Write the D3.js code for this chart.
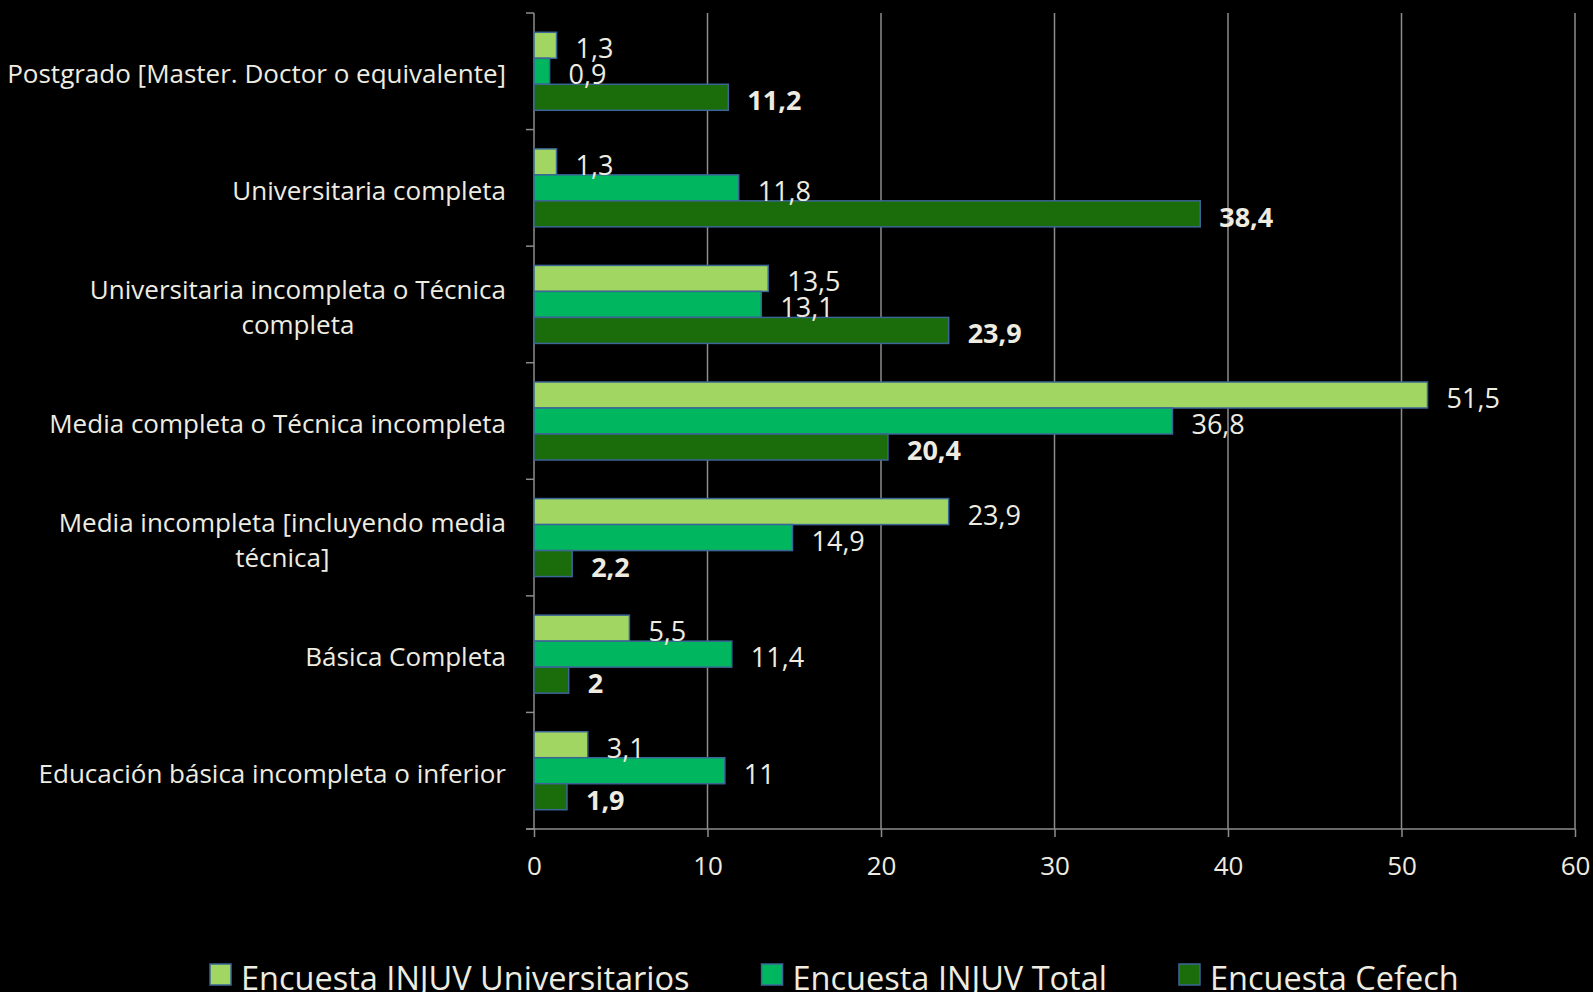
<!DOCTYPE html>
<html>
<head>
    <meta charset="utf-8">
    <style>
        body { margin: 0; background: #000; }
        svg { display: block; }
        text {
          font-family: "Open Sans", sans-serif;
          fill: #eeece1;
        }
        .cat { font-size: 26px; }
        .tick-label { font-size: 26px; }
        .value { font-size: 27px; }
        .value--bold { font-weight: 700; }
        .legend text { font-size: 32.5px; }
        .grid line, .axis line {
          stroke: #8c8c8c;
          stroke-width: 1.5px;
        }
        .bar {
          stroke: #3b6696;
          stroke-width: 1.5px;
        }
    </style>
    <title>Nivel educacional</title>
    <script src="https://d3js.org/d3.v7.min.js"></script>
</head>
<body>
    <script>
    // categories, top to bottom
    var categories = [
      "Postgrado [Master. Doctor o equivalente]",
      "Universitaria completa",
      "Universitaria incompleta o Técnica completa",
      "Media completa o Técnica incompleta",
      "Media incompleta [incluyendo media técnica]",
      "Básica Completa",
      "Educación básica incompleta o inferior"
    ];

    // series names (legend order)
    var seriesNames = ["Encuesta INJUV Universitarios", "Encuesta INJUV Total", "Encuesta Cefech"];

    // values per series, same order as categories
    var injuvUniversitarios = [1.3, 1.3, 13.5, 51.5, 23.9, 5.5, 3.1];
    var injuvTotal = [0.9, 11.8, 13.1, 36.8, 14.9, 11.4, 11];
    var cefech = [11.2, 38.4, 23.9, 20.4, 2.2, 2, 1.9];

    var xTicks = [0, 10, 20, 30, 40, 50, 60];

    var seriesValues = [injuvUniversitarios, injuvTotal, cefech];
    var colors = ["#a2d663", "#00b65e", "#1b6d0b"];

    var width = 1593, height = 992;
    var plot = { left: 534, right: 1575, top: 13, bottom: 829 };

    var svg = d3.select("body").append("svg")
        .attr("width", width)
        .attr("height", height);

    // scales
    var x = d3.scaleLinear()
        .domain([0, 60])
        .range([plot.left, plot.right]);

    var y = d3.scaleBand()
        .domain(categories)
        .range([plot.top, plot.bottom])
        .paddingInner(0.331)
        .paddingOuter(0.1655);

    var ySeries = d3.scaleBand()
        .domain(d3.range(seriesNames.length))
        .range([0, y.bandwidth()]);

    var step = y.step();

    // vertical grid lines
    svg.append("g")
        .attr("class", "grid")
        .selectAll("line")
        .data(xTicks.slice(1))
        .enter().append("line")
          .attr("x1", function(d) { return x(d); })
          .attr("x2", function(d) { return x(d); })
          .attr("y1", plot.top)
          .attr("y2", plot.bottom);

    // x axis
    var xAxis = svg.append("g")
        .attr("class", "axis")
        .attr("transform", "translate(0," + plot.bottom + ")")
        .call(d3.axisBottom(x).tickValues(xTicks).tickSize(8).tickSizeOuter(0));
    xAxis.select(".domain").remove();
    xAxis.append("line")
        .attr("x1", plot.left - 8)
        .attr("x2", plot.right);
    xAxis.selectAll(".tick text")
        .attr("class", "tick-label")
        .attr("y", 46)
        .attr("dy", 0)
        .attr("font-size", null)
        .attr("font-family", null)
        .attr("fill", null)
        .text(function(d) { return d; });

    // y axis: line + ticks at category boundaries
    var yAxis = svg.append("g").attr("class", "axis");
    yAxis.append("line")
        .attr("x1", plot.left).attr("x2", plot.left)
        .attr("y1", plot.top).attr("y2", plot.bottom);
    yAxis.selectAll(".ytick")
        .data(d3.range(categories.length + 1))
        .enter().append("line")
          .attr("class", "ytick")
          .attr("x1", plot.left - 8)
          .attr("x2", plot.left)
          .attr("y1", function(i) { return plot.top + i * step; })
          .attr("y2", function(i) { return plot.top + i * step; });

    // category labels (wrapped, centred block, right aligned)
    var labelRight = 506, lineHeight = 35, maxLabelWidth = 515;
    var catLabels = svg.append("g").selectAll(".cat")
        .data(categories)
        .enter().append("text")
          .attr("class", "cat")
          .attr("text-anchor", "middle");

    catLabels.each(function(d) {
      var t = d3.select(this);
      var words = d.split(" "), lines = [], line = [];
      var probe = t.append("tspan");
      words.forEach(function(w) {
        line.push(w);
        probe.text(line.join(" "));
        if (probe.node().getComputedTextLength() > maxLabelWidth && line.length > 1) {
          line.pop();
          lines.push(line.join(" "));
          line = [w];
        }
      });
      lines.push(line.join(" "));
      probe.remove();

      var widest = 0;
      var tspans = lines.map(function(l) {
        var s = t.append("tspan").text(l);
        widest = Math.max(widest, s.node().getComputedTextLength());
        return s;
      });
      var cx = labelRight - widest / 2;
      var cy = y(d) + y.bandwidth() / 2;
      tspans.forEach(function(s, i) {
        s.attr("x", cx)
         .attr("y", cy + 12 + (i - (lines.length - 1) / 2) * lineHeight);
      });
    });

    // bars
    var groups = svg.append("g").selectAll(".group")
        .data(categories)
        .enter().append("g")
          .attr("transform", function(d) { return "translate(0," + y(d) + ")"; });

    groups.selectAll(".bar")
        .data(function(d, ci) {
          return seriesValues.map(function(vals, si) { return { s: si, v: vals[ci] }; });
        })
        .enter().append("rect")
          .attr("class", "bar")
          .attr("x", x(0))
          .attr("y", function(d) { return ySeries(d.s); })
          .attr("width", function(d) { return x(d.v) - x(0); })
          .attr("height", ySeries.bandwidth())
          .attr("fill", function(d) { return colors[d.s]; });

    // value labels
    groups.selectAll(".value")
        .data(function(d, ci) {
          return seriesValues.map(function(vals, si) { return { s: si, v: vals[ci] }; });
        })
        .enter().append("text")
          .attr("class", function(d) { return d.s === 2 ? "value value--bold" : "value"; })
          .attr("x", function(d) { return x(d.v) + 19; })
          .attr("y", function(d) { return ySeries(d.s) + ySeries.bandwidth() / 2 + 13; })
          .text(function(d) { return String(d.v).replace(".", ","); });

    // legend
    var legend = svg.append("g").attr("class", "legend");
    var lx = 210;
    seriesNames.forEach(function(name, i) {
      var item = legend.append("g").attr("transform", "translate(" + lx + ",964)");
      item.append("rect")
          .attr("class", "bar")
          .attr("width", 21)
          .attr("height", 21)
          .attr("fill", colors[i]);
      var t = item.append("text")
          .attr("x", 31)
          .attr("y", 26)
          .text(name);
      lx += 31 + t.node().getComputedTextLength() + 72;
    });
    </script>
</body>
</html>
